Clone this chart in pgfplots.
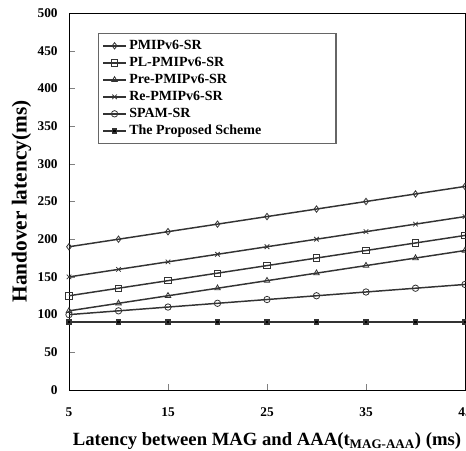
\documentclass[border=0pt]{standalone}
\usepackage{fontspec}
\setmainfont{Liberation Serif}
\usepackage{pgfplots}
\pgfplotsset{compat=1.18}
\begin{document}
\begin{tikzpicture}
\begin{axis}[scale only axis, width=297pt, height=282.75pt, at={(0,0)}, anchor=south west,
  xmin=5, xmax=45, ymin=0, ymax=500,
  xtick={5,15,25,35,45}, ytick={0,50,...,500},
  xtick pos=left, ytick pos=left,
  /pgf/number format/assume math mode=true,
  tick label style={font=\bfseries\fontsize{10}{11}\selectfont},
  xticklabel style={yshift=-10pt},
  yticklabel style={xshift=-5pt},
  xlabel style={font=\bfseries\fontsize{14}{16}\selectfont, yshift=-5pt},
  ylabel style={font=\bfseries\fontsize{16}{18}\selectfont, yshift=-2pt},
  xlabel={Latency between MAG and AAA(t\textsubscript{MAG-AAA}) (ms)},
  ylabel={Handover latency(ms)},
  every axis plot/.append style={black!80, line width=1.1pt, mark size=2.4pt, mark options={solid, fill=white, line width=0.6pt}},
  legend cell align=left,
  legend style={at={(0.073,0.947)}, anchor=north west, draw=black!60, line width=0.8pt, font=\bfseries\fontsize{10.5}{11}\selectfont, row sep=0.3pt, inner sep=3pt},
  clip=false]
\addplot[mark=diamond] coordinates {(5,190) (10,200) (15,210) (20,220) (25,230) (30,240) (35,250) (40,260) (45,270)};
\addlegendentry{\makebox[150pt][l]{PMIPv6-SR}}
\addplot[mark=square] coordinates {(5,125) (10,135) (15,145) (20,155) (25,165) (30,175) (35,185) (40,195) (45,205)};
\addlegendentry{PL-PMIPv6-SR}
\addplot[mark=triangle] coordinates {(5,105) (10,115) (15,125) (20,135) (25,145) (30,155) (35,165) (40,175) (45,185)};
\addlegendentry{Pre-PMIPv6-SR}
\addplot[mark=x] coordinates {(5,150) (10,160) (15,170) (20,180) (25,190) (30,200) (35,210) (40,220) (45,230)};
\addlegendentry{Re-PMIPv6-SR}
\addplot[mark=o] coordinates {(5,100) (10,105) (15,110) (20,115) (25,120) (30,125) (35,130) (40,135) (45,140)};
\addlegendentry{SPAM-SR}
\addplot[mark=square*, mark size=1.5pt, mark options={fill=black}] coordinates {(5,90) (10,90) (15,90) (20,90) (25,90) (30,90) (35,90) (40,90) (45,90)};
\addlegendentry{The Proposed Scheme}
\end{axis}
\pgfresetboundingbox
\path (-51.75pt,-45pt) rectangle (297.75pt,292.5pt);
\end{tikzpicture}
\end{document}
